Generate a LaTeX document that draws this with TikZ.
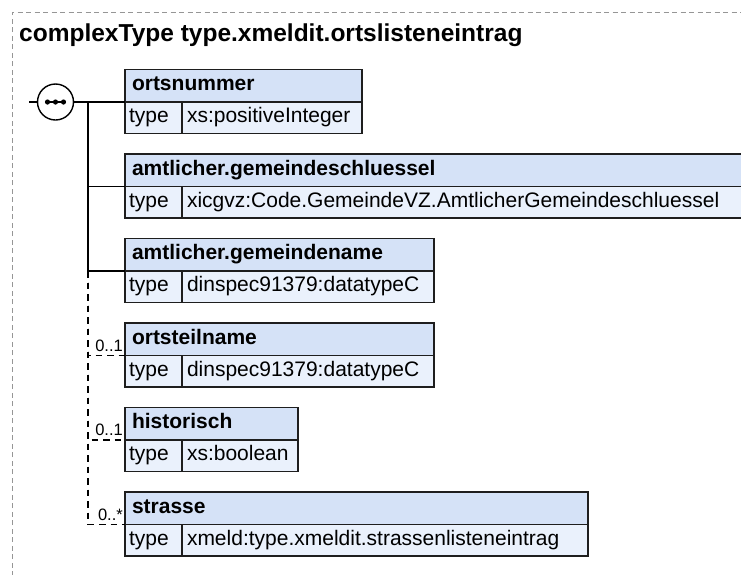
\documentclass[tikz,border=0pt]{standalone}
\usepackage{fontspec}
\setmainfont{Liberation Sans}
\definecolor{hdrfill}{RGB}{213,226,247}
\definecolor{rowfill}{RGB}{234,241,252}
\definecolor{boxline}{RGB}{30,30,30}
\definecolor{frameline}{RGB}{150,150,150}
\tikzset{
  cell/.style={draw=boxline, line width=1.4pt, anchor=north west, inner ysep=0pt, outer sep=0pt,
    text height=14.5pt, text depth=5pt, align=left, font=\fontsize{21}{25}\selectfont},
  hdr/.style={cell, fill=hdrfill, minimum height=32.5pt, inner xsep=7pt, font=\bfseries\fontsize{21}{25}\selectfont},
  typecell/.style={cell, fill=rowfill, minimum height=31.5pt, inner xsep=4pt, text width=49pt},
  valcell/.style={cell, fill=rowfill, minimum height=31.5pt, inner xsep=5pt},
  conn/.style={draw=black, line width=1.4pt},
  optconn/.style={conn, dash pattern=on 6.5pt off 5pt},
  mult/.style={anchor=base east, inner sep=0pt, font=\fontsize{16.5}{20}\selectfont},
  frame/.style={draw=frameline, line width=1pt, dash pattern=on 5pt off 3.5pt},
  seqcircle/.style={circle, draw=black, fill=white, line width=1.4pt, minimum size=36pt, inner sep=0pt, outer sep=0pt}
}
\begin{document}
\begin{tikzpicture}[x=1pt,y=-1pt]
\useasboundingbox (0,0) rectangle (741,574);
\fill[white] (0,0) rectangle (741,574);
% outer frame
\draw[frame] (12,576) -- (12,12) -- (743,12);
% title
\node[anchor=base west, inner sep=0pt, font=\bfseries\fontsize{24.5}{29}\selectfont] (title) at (19,41) {complexType type.xmeldit.ortslisteneintrag};

% elements
% 1 ortsnummer
\node[hdr, text width=223pt] (h1) at (125,69.5) {ortsnummer};
\node[typecell] (t1) at (125,102) {type};
\node[valcell, text width=170pt] (v1) at (182,102) {xs:positiveInteger};
% 2 amtlicher.gemeindeschluessel
\node[hdr, text width=606pt] (h2) at (125,154) {amtlicher.gemeindeschluessel};
\node[typecell] (t2) at (125,186.5) {type};
\node[valcell, text width=553pt] (v2) at (182,186.5) {xicgvz:Code.GemeindeVZ.AmtlicherGemeindeschluessel};
% 3 amtlicher.gemeindename
\node[hdr, text width=295pt] (h3) at (125,238.5) {amtlicher.gemeindename};
\node[typecell] (t3) at (125,271) {type};
\node[valcell, text width=242pt] (v3) at (182,271) {dinspec91379:datatypeC};
% 4 ortsteilname
\node[hdr, text width=295pt] (h4) at (125,323) {ortsteilname};
\node[typecell] (t4) at (125,355.5) {type};
\node[valcell, text width=242pt] (v4) at (182,355.5) {dinspec91379:datatypeC};
% 5 historisch
\node[hdr, text width=159pt] (h5) at (125,407.5) {historisch};
\node[typecell] (t5) at (125,440) {type};
\node[valcell, text width=106pt] (v5) at (182,440) {xs:boolean};
% 6 strasse
\node[hdr, text width=449pt] (h6) at (125,492) {strasse};
\node[typecell] (t6) at (125,524.5) {type};
\node[valcell, text width=396pt] (v6) at (182,524.5) {xmeld:type.xmeldit.strassenlisteneintrag};

% sequence compositor
\node[seqcircle] (seq) at (55.5,102) {};
\draw[line width=1.4pt] (46,102) -- (65,102);
\fill (47.5,102) circle (2.6);
\fill (55.5,102) circle (2.6);
\fill (63.5,102) circle (2.6);
\coordinate (in) at (29,102);
\coordinate (j1) at (88,102);
\draw[conn] (in) -- (seq.west);
\draw[conn] (seq.east) -- (t1.north west);
\draw[conn] (j1) |- (t2.north west);
\draw[conn] (j1) |- (t3.north west);
\coordinate (j3) at (j1 |- t3.north west);
\draw[optconn] (j3) |- (t4.north west);
\draw[optconn] (j3) |- (t5.north west);
\draw[optconn] (j3) |- (t6.north west);

% multiplicities
\node[mult] (m4) at (123,351) {0..1};
\node[mult] (m5) at (123,435.5) {0..1};
\node[mult] (m6) at (123,520) {0..*};
\end{tikzpicture}
\end{document}
